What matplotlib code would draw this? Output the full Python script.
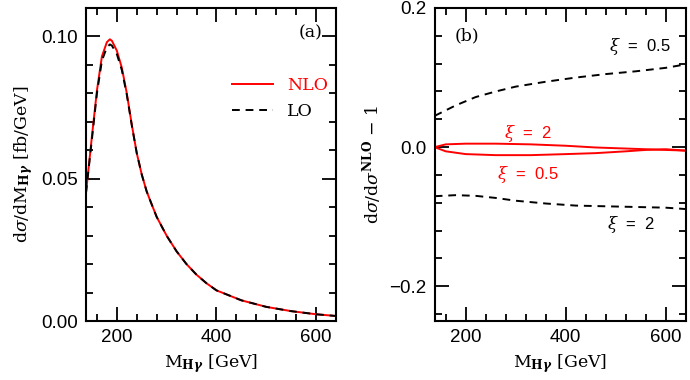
#!/usr/bin/env python3

import matplotlib
matplotlib.use("Agg")
import matplotlib.pyplot as plt
from matplotlib.ticker import MultipleLocator

# panel (a): distribution
m_a = [138, 150, 160, 170, 180, 186, 190, 200, 210, 220, 230, 240, 250, 260,
       270, 280, 300, 320, 340, 360, 380, 400, 450, 500, 550, 600, 640]
nlo = [0.045, 0.065, 0.081, 0.093, 0.098, 0.099, 0.0985, 0.095, 0.089, 0.080,
       0.069, 0.059, 0.0515, 0.0455, 0.041, 0.0366, 0.030, 0.0245, 0.020,
       0.0163, 0.0133, 0.0108, 0.0073, 0.0050, 0.0035, 0.0024, 0.0018]
lo = [0.045, 0.064, 0.080, 0.0915, 0.0962, 0.0972, 0.0968, 0.0938, 0.0882,
      0.0795, 0.0688, 0.059, 0.0515, 0.0455, 0.041, 0.0366, 0.030, 0.0245,
      0.020, 0.0163, 0.0133, 0.0108, 0.0073, 0.0050, 0.0035, 0.0024, 0.0018]

# panel (b): scale variation ratios
m_b = [138, 160, 200, 260, 330, 400, 460, 520, 560, 600, 640]
nlo_xi2 = [0.0, 0.004, 0.005, 0.005, 0.004, 0.002, -0.0005, -0.002, -0.003,
           -0.004, -0.005]
nlo_xi05 = [0.0, -0.006, -0.010, -0.0115, -0.0115, -0.010, -0.0086, -0.006,
            -0.004, -0.003, -0.005]
m_lo = [138, 180, 220, 260, 300, 360, 420, 480, 540, 600, 640]
lo_xi05 = [0.045, 0.060, 0.072, 0.080, 0.087, 0.094, 0.100, 0.105, 0.109,
           0.114, 0.119]
lo_xi2 = [-0.0705, -0.069, -0.070, -0.073, -0.077, -0.081, -0.084, -0.085,
          -0.086, -0.087, -0.089]

plt.rcParams["font.family"] = ["Liberation Sans", "DejaVu Sans"]
plt.rcParams["mathtext.fontset"] = "dejavuserif"
plt.rcParams["axes.linewidth"] = 1.5


def style(ax):
    ax.tick_params(which="both", direction="in", top=True, right=True,
                   labelsize=13.5, width=1.3)
    ax.tick_params(which="major", length=10, pad=6)
    ax.tick_params(which="minor", length=5)
    ax.xaxis.set_major_locator(MultipleLocator(200))
    ax.xaxis.set_minor_locator(MultipleLocator(40))
    ax.set_xlabel(r"$\mathrm{M}_{\mathbf{H}\boldsymbol{\gamma}}$ [GeV]",
                  family="DejaVu Serif", fontsize=12.5)


def main():
    fig = plt.figure(figsize=(6.9, 3.8), dpi=100)
    ax1 = fig.add_axes([0.1246, 0.155, 0.3623, 0.824])
    ax2 = fig.add_axes([0.630, 0.155, 0.364, 0.824])

    ax1.plot(m_a, nlo, color="red", lw=1.4, label="NLO")
    ax1.plot(m_a, lo, color="black", lw=1.4, ls=(0, (4, 3)), label="LO")
    ax1.set_xlim(138, 640)
    ax1.set_ylim(0, 0.11)
    ax1.yaxis.set_major_locator(MultipleLocator(0.05))
    ax1.yaxis.set_minor_locator(MultipleLocator(0.01))
    ax1.yaxis.set_major_formatter(lambda v, p: f"{v:.2f}")
    style(ax1)
    ax1.set_ylabel(r"d$\sigma$/dM$_{\mathbf{H}\boldsymbol{\gamma}}$ [fb/GeV]",
                   family="DejaVu Serif", fontsize=12.5)
    ax1.text(0.90, 0.92, "(a)", transform=ax1.transAxes, fontsize=12.5,
             family="DejaVu Serif", ha="center", va="center")
    leg = ax1.legend(loc="center left", bbox_to_anchor=(0.52, 0.71),
                     frameon=False, handlelength=2.4,
                     prop={"family": "DejaVu Serif", "size": 12.5})
    for t, c in zip(leg.get_texts(), ["red", "black"]):
        t.set_color(c)

    ax2.plot(m_b, nlo_xi2, color="red", lw=1.4)
    ax2.plot(m_b, nlo_xi05, color="red", lw=1.4)
    ax2.plot(m_lo, lo_xi05, color="black", lw=1.4, ls=(0, (4, 3)))
    ax2.plot(m_lo, lo_xi2, color="black", lw=1.4, ls=(0, (4, 3)))
    ax2.set_xlim(138, 640)
    ax2.set_ylim(-0.25, 0.2)
    ax2.yaxis.set_major_locator(MultipleLocator(0.2))
    ax2.yaxis.set_minor_locator(MultipleLocator(0.04))
    ax2.yaxis.set_major_formatter(lambda v, p: f"{v:.1f}".replace("-", "\u2212"))
    style(ax2)
    ax2.set_ylabel(r"d$\sigma$/d$\sigma^{\mathbf{NLO}}$ $-$ 1",
                   family="DejaVu Serif", fontsize=12.5)
    ax2.text(0.13, 0.91, "(b)", transform=ax2.transAxes, fontsize=12.5,
             family="DejaVu Serif", ha="center", va="center")
    ax2.text(548, 0.144, r"$\xi$  =  0.5", fontsize=12, ha="center", va="center")
    ax2.text(324, 0.019, r"$\xi$  =  2", fontsize=12, color="red",
             ha="center", va="center")
    ax2.text(324, -0.040, r"$\xi$  =  0.5", fontsize=12, color="red",
             ha="center", va="center")
    ax2.text(530, -0.111, r"$\xi$  =  2", fontsize=12, ha="center", va="center")

    fig.savefig("out.png", dpi=100)


if __name__ == "__main__":
    main()
